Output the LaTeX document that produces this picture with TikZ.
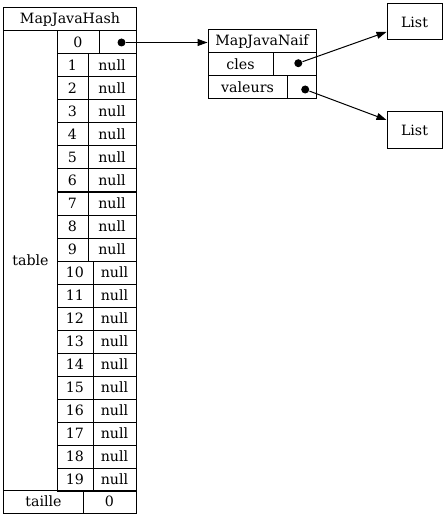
\documentclass[tikz,border=0pt]{standalone}
\usepackage{fontspec}
\setmainfont{DejaVu Serif}
\usetikzlibrary{arrows.meta}

\begin{document}
\begin{tikzpicture}[x=1bp,y=-1bp,line width=1bp,font=\fontsize{14.2bp}{17bp}\selectfont,>={Triangle[length=10bp,width=7bp]},
  cell/.style={draw,minimum height=23bp,inner sep=0pt},
  ptr/.style={circle,fill,inner sep=0pt,minimum size=8bp}]
\useasboundingbox (0,0) rectangle (446,519);
% MapJavaHash
\node[cell,minimum width=132bp] (hash) at (70,19.5) {MapJavaHash};
\node[cell,minimum width=53bp,minimum height=459bp] (tablecol) at (30.5,260.5) {table};
\node[cell,minimum width=42bp] (idx0) at (78,42.5) {0};
\node[cell,minimum width=37bp] (ptr0) at (117.5,42.5) {};
\foreach \i in {1,...,9}{
  \node[cell,minimum width=31bp] (idx\i) at (72.5,42.5+23*\i) {\i};
  \node[cell,minimum width=48bp] (val\i) at (112,42.5+23*\i) {null};
}
\foreach \i in {10,...,19}{
  \node[cell,minimum width=36bp] (idx\i) at (75,42.5+23*\i) {\i};
  \node[cell,minimum width=43bp] (val\i) at (114.5,42.5+23*\i) {null};
}
\node[cell,minimum width=79bp] (taille) at (43.5,501.5) {taille};
\node[cell,minimum width=53bp] (taillev) at (109.5,501.5) {0};
% MapJavaNaif
\node[cell,minimum width=108bp] (naif) at (262,41.5) {MapJavaNaif};
\node[cell,minimum width=65bp] (cles) at (240.5,64.5) {cles};
\node[cell,minimum width=43bp] (clesptr) at (294.5,64.5) {};
\node[cell,minimum width=79bp] (valeurs) at (247.5,87.5) {valeurs};
\node[cell,minimum width=29bp] (valeursptr) at (301.5,87.5) {};
% listes
\node[draw,minimum width=55bp,minimum height=36bp,inner sep=0pt] (listcles) at (414.5,22) {List};
\node[draw,minimum width=55bp,minimum height=37bp,inner sep=0pt] (listvaleurs) at (414.5,130.5) {List};
% pointeurs
\node[ptr] (dot0) at (121.5,42.5) {};
\node[ptr] (dotcles) at (298.3,63.2) {};
\node[ptr] (dotvaleurs) at (305.2,89.5) {};
\draw[->] (dot0.east) -- (dot0.east -| naif.west);
\draw[->] (dotcles) -- (listcles);
\draw[->] (dotvaleurs) -- (listvaleurs);
\end{tikzpicture}
\end{document}
